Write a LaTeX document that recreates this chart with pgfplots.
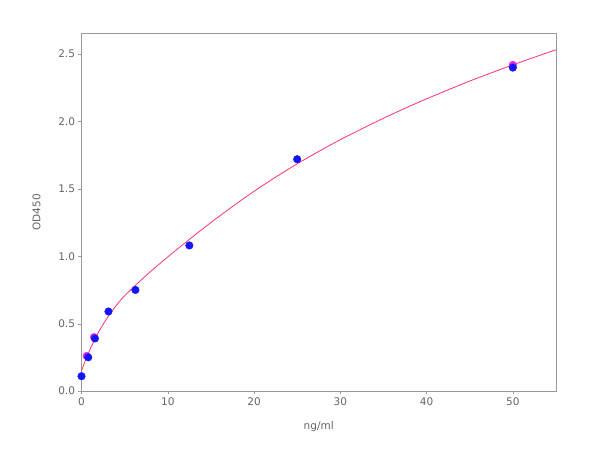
\documentclass[border=0pt]{standalone}
\usepackage{pgfplots}
\pgfplotsset{compat=1.18}
\usetikzlibrary{calc}
\usepackage{fontspec}
\setmainfont{DejaVu Sans}
\definecolor{txtgray}{RGB}{100,100,100}
\definecolor{fitred}{RGB}{255,50,110}
\definecolor{ptblue}{RGB}{20,20,250}
\definecolor{ptmag}{RGB}{230,40,230}

\begin{document}
\begin{tikzpicture}
  \begin{axis}[
    name=main,
    scale only axis, width=474.5pt, height=357.5pt,
    xmin=0, xmax=55, ymin=0, ymax=2.653,
    xtick={0,10,20,30,40,50},
    ytick={0,0.5,1.0,1.5,2.0,2.5},
    yticklabel style={/pgf/number format/.cd,fixed,fixed zerofill,precision=1},
    /pgf/number format/assume math mode=true,
    tick align=outside, tick pos=left,
    major tick length=3pt,
    axis line style={gray!80},
    tick style={gray!80},
    tick label style={font=\fontsize{10.5}{12}\selectfont, text=txtgray},
    label style={font=\fontsize{10.5}{12}\selectfont, text=txtgray},
    xlabel={ng/ml}, ylabel={OD450},
    xlabel style={yshift=-9pt},
    ylabel style={yshift=11pt},
    clip=false,
  ]
    % fitted curve
    \addplot[fitred, thick, smooth, no markers] coordinates {
      (0,0.15)(0.5,0.235)(1,0.31)(1.5,0.378)(2,0.44)(3,0.545)(4,0.632)
      (5,0.707)(7.5,0.858)(10,0.995)(12.5,1.125)(15,1.25)(17.5,1.369)
      (20,1.482)(22.5,1.587)(25,1.686)(27.5,1.778)(30,1.865)(32.5,1.946)
      (35,2.024)(37.5,2.098)(40,2.168)(42.5,2.235)(45,2.30)(47.5,2.361)
      (50,2.42)(52.5,2.477)(55,2.532)};
    % replicate points
    \addplot[only marks, mark=*, mark size=3.8pt, ptmag, mark options={draw=ptmag,fill=ptmag}] coordinates {
      (0.6,0.26)(1.45,0.40)(50,2.42)};
    % standards
    \addplot[only marks, mark=*, mark size=3.8pt, mark options={draw=ptblue,fill=ptblue}] coordinates {
      (0,0.11)(0.78,0.25)(1.56,0.39)(3.125,0.59)(6.25,0.75)
      (12.5,1.08)(25,1.72)(50,2.40)};
  \end{axis}
  \pgfresetboundingbox
  \path[use as bounding box] ($(main.south west)+(-81.5pt,-60pt)$) rectangle ++(600pt,451pt);
\end{tikzpicture}
\end{document}
